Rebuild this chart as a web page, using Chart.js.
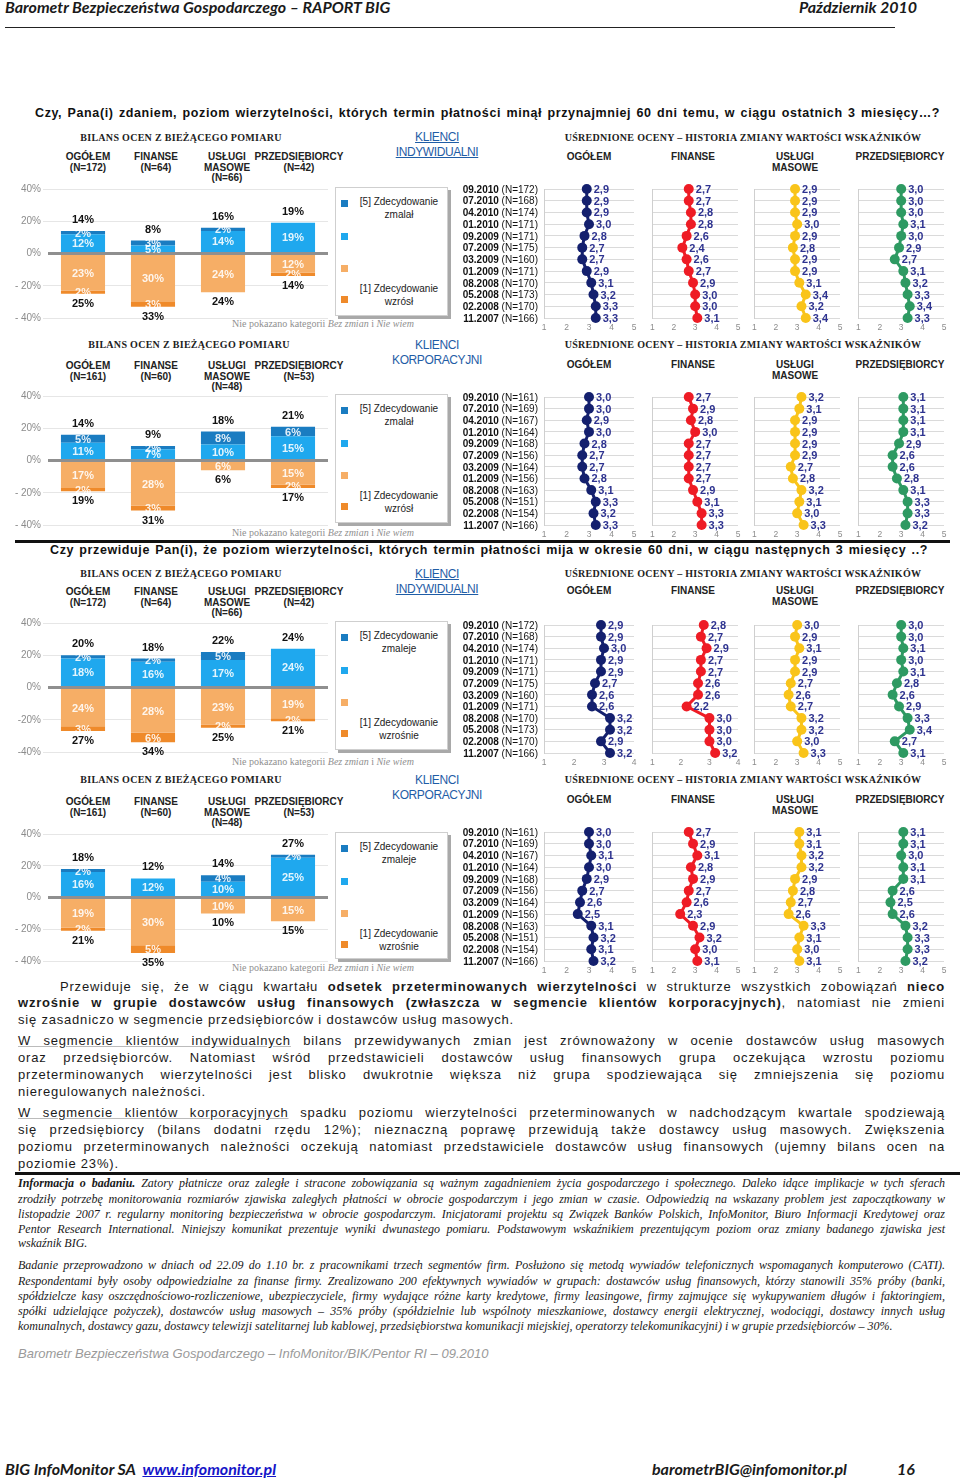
<!DOCTYPE html>
<html><head><meta charset="utf-8">
<script src="https://cdn.jsdelivr.net/npm/chart.js@4.4.1/dist/chart.umd.min.js"></script>
<style>
html,body{margin:0;padding:0;background:#fff;}
body{width:960px;height:1481px;position:relative;overflow:hidden;font-family:"Liberation Sans",Arial,sans-serif;color:#111;}
.a{position:absolute;white-space:nowrap;}
.hd{font-family:"Liberation Serif","Times New Roman",serif;font-weight:bold;font-size:10px;color:#222;text-align:center;letter-spacing:0.3px;}
.col{font-weight:bold;font-size:10px;text-align:center;line-height:10.5px;color:#222;}
.kl{font-size:12px;color:#1f5da6;text-align:center;line-height:14.5px;letter-spacing:-0.4px;}
.lg{border:1px solid #cfcfcf;box-shadow:3px 3px 0 #a9a9a9;background:#fff;}
.lt{position:absolute;font-size:10px;text-align:center;line-height:12.5px;color:#222;white-space:nowrap;}
.np{font-family:"Liberation Serif","Times New Roman",serif;font-size:10px;color:#8f8f8f;}
.jl{position:absolute;white-space:nowrap;text-align:justify;text-align-last:justify;}
.bt{font-size:13px;letter-spacing:0.8px;line-height:18px;color:#1a1a1a;}
.it{font-family:"Liberation Serif","Times New Roman",serif;font-style:italic;font-size:12px;line-height:15px;color:#1a1a1a;}
.ph{font-family:Lato,"Open Sans",sans-serif;font-weight:bold;font-style:italic;font-size:16px;line-height:19px;color:#1a1a1a;}
</style></head><body>
<script>
// ---------- DATA ----------
const barCategories = ['OGÓŁEM', 'FINANSE', 'USŁUGI MASOWE', 'PRZEDSIĘBIORCY'];
const barTicksA = ['40%', '20%', '0%', '- 20%', '- 40%'];
const barTicksB = ['40%', '20%', '0%', '-20%', '-40%'];
const lineDates = ['09.2010','07.2010','04.2010','01.2010','09.2009','07.2009','03.2009','01.2009','08.2008','05.2008','02.2008','11.2007'];
const nIndividual = [172,168,174,171,171,175,160,171,170,173,170,166];
const nCorporate = [161,169,167,164,168,156,164,156,163,151,154,166];

// Panel 1: klienci indywidualni, ostatnie 3 miesiące
const p1N = [172, 64, 66, 42];
const p1DarkBlue = [2, 3, 2, 0];
const p1LightBlue = [12, 5, 14, 19];
const p1LightOrange = [23, 30, 24, 12];
const p1DarkOrange = [2, 3, 0, 2];
const p1TotalUp = [14, 8, 16, 19];
const p1TotalDown = [25, 33, 24, 14];
const p1Ogolem = [2.9,2.9,2.9,3.0,2.8,2.7,2.7,2.9,3.1,3.2,3.3,3.3];
const p1Finanse = [2.7,2.7,2.8,2.8,2.6,2.4,2.6,2.7,2.9,3.0,3.0,3.1];
const p1Uslugi = [2.9,2.9,2.9,3.0,2.9,2.8,2.9,2.9,3.1,3.4,3.2,3.4];
const p1Przeds = [3.0,3.0,3.0,3.1,3.0,2.9,2.7,3.1,3.2,3.3,3.4,3.3];

// Panel 2: klienci korporacyjni, ostatnie 3 miesiące
const p2N = [161, 60, 48, 53];
const p2DarkBlue = [5, 2, 8, 6];
const p2LightBlue = [11, 7, 10, 15];
const p2LightOrange = [17, 28, 6, 15];
const p2DarkOrange = [2, 3, 0, 2];
const p2TotalUp = [14, 9, 18, 21];
const p2TotalDown = [19, 31, 6, 17];
const p2Ogolem = [3.0,3.0,2.9,3.0,2.8,2.7,2.7,2.8,3.1,3.3,3.2,3.3];
const p2Finanse = [2.7,2.9,2.8,3.0,2.7,2.7,2.7,2.7,2.9,3.1,3.3,3.3];
const p2Uslugi = [3.2,3.1,2.9,2.9,2.9,2.9,2.7,2.8,3.2,3.1,3.0,3.3];
const p2Przeds = [3.1,3.1,3.1,3.1,2.9,2.6,2.6,2.8,3.1,3.3,3.3,3.2];

// Panel 3: klienci indywidualni, następne 3 miesiące
const p3N = [172, 64, 66, 42];
const p3DarkBlue = [2, 2, 5, 0];
const p3LightBlue = [18, 16, 17, 24];
const p3LightOrange = [24, 28, 23, 19];
const p3DarkOrange = [3, 6, 2, 2];
const p3TotalUp = [20, 18, 22, 24];
const p3TotalDown = [27, 34, 25, 21];
const p3Ogolem = [2.9,2.9,3.0,2.9,2.9,2.7,2.6,2.6,3.2,3.2,2.9,3.2];
const p3Finanse = [2.8,2.7,2.9,2.7,2.7,2.6,2.6,2.2,3.0,3.0,3.0,3.2];
const p3Uslugi = [3.0,2.9,3.1,2.9,2.9,2.7,2.6,2.7,3.2,3.2,3.0,3.3];
const p3Przeds = [3.0,3.0,3.1,3.0,3.1,2.8,2.6,2.9,3.3,3.4,2.7,3.1];

// Panel 4: klienci korporacyjni, następne 3 miesiące
const p4N = [161, 60, 48, 53];
const p4DarkBlue = [2, 0, 4, 2];
const p4LightBlue = [16, 12, 10, 25];
const p4LightOrange = [19, 30, 10, 15];
const p4DarkOrange = [2, 5, 0, 0];
const p4TotalUp = [18, 12, 14, 27];
const p4TotalDown = [21, 35, 10, 15];
const p4Ogolem = [3.0,3.0,3.1,3.0,2.9,2.7,2.6,2.5,3.1,3.2,3.1,3.2];
const p4Finanse = [2.7,2.9,3.1,2.8,2.9,2.7,2.6,2.3,2.9,3.2,3.0,3.1];
const p4Uslugi = [3.1,3.1,3.2,3.2,2.9,2.8,2.7,2.6,3.3,3.1,3.0,3.1];
const p4Przeds = [3.1,3.1,3.0,3.1,3.1,2.6,2.5,2.6,3.2,3.3,3.3,3.2];

// ---------- STYLE / LAYOUT ----------
const C = {dark:'#1a7cc1', light:'#1fa8ee', lor:'#f6ae66', dor:'#ef8a2a',
  navy:'#14206e', red:'#ee1c25', yellow:'#f9c41a', green:'#2e9a62', lbl:'#2e3390'};
const panels = [
  {top40:189, bot40:318, head:138, bilX:181, colY:157, lcolY:157, rowTop:189, rowBot:318, note:324, kl:137, klText:['KLIENCI','INDYWIDUALNI'], ul:true,
   N:p1N, db:p1DarkBlue, lb:p1LightBlue, lo:p1LightOrange, do_:p1DarkOrange, tu:p1TotalUp, td:p1TotalDown,
   lines:[p1Ogolem,p1Finanse,p1Uslugi,p1Przeds], nArr:nIndividual, xmax:[5,5,5,5], ticks:barTicksA, leg:['zmalał','wzrósł']},
  {top40:396, bot40:525, head:345, bilX:189, colY:366, lcolY:365, rowTop:397, rowBot:525, note:533, kl:345, klText:['KLIENCI','KORPORACYJNI'], ul:false,
   N:p2N, db:p2DarkBlue, lb:p2LightBlue, lo:p2LightOrange, do_:p2DarkOrange, tu:p2TotalUp, td:p2TotalDown,
   lines:[p2Ogolem,p2Finanse,p2Uslugi,p2Przeds], nArr:nCorporate, xmax:[5,5,5,5], ticks:barTicksA, leg:['zmalał','wzrósł']},
  {top40:623, bot40:752, head:574, bilX:181, colY:592, lcolY:591, rowTop:625, rowBot:753, note:762, kl:574, klText:['KLIENCI','INDYWIDUALNI'], ul:true,
   N:p3N, db:p3DarkBlue, lb:p3LightBlue, lo:p3LightOrange, do_:p3DarkOrange, tu:p3TotalUp, td:p3TotalDown,
   lines:[p3Ogolem,p3Finanse,p3Uslugi,p3Przeds], nArr:nIndividual, xmax:[4,4,5,5], ticks:barTicksB, leg:['zmaleje','wzrośnie']},
  {top40:834, bot40:961, head:780, bilX:181, colY:802, lcolY:800, rowTop:832, rowBot:961, note:968, kl:780, klText:['KLIENCI','KORPORACYJNI'], ul:false,
   N:p4N, db:p4DarkBlue, lb:p4LightBlue, lo:p4LightOrange, do_:p4DarkOrange, tu:p4TotalUp, td:p4TotalDown,
   lines:[p4Ogolem,p4Finanse,p4Uslugi,p4Przeds], nArr:nCorporate, xmax:[5,5,5,5], ticks:barTicksA, leg:['zmaleje','wzrośnie']},
];
const barColX = [88, 156, 227, 299];
const lineColX = [589, 693, 795, 900];
const lineX = [[544,634],[647,738],[749,840],[853,944]];
const lineColors = [C.navy, C.red, C.yellow, C.green];

function place(css, html, cls) {
  const el = document.createElement('div');
  el.className = 'a ' + (cls || '');
  el.style.cssText += css;
  el.innerHTML = html;
  document.body.appendChild(el);
  return el;
}
function canvasAt(left, top, w, h) {
  const c = document.createElement('canvas');
  c.width = w; c.height = h;
  c.style.cssText = `position:absolute;left:${left}px;top:${top}px;width:${w}px;height:${h}px;`;
  document.body.appendChild(c);
  return c;
}

const barLabelPlugin = {
  id: 'barLabels',
  afterDatasetsDraw(chart, args, opts) {
    const ctx = chart.ctx, ys = chart.scales.y;
    ctx.save();
    ctx.textAlign = 'center'; ctx.textBaseline = 'middle';
    ctx.font = 'bold 11px "Liberation Sans", Arial';
    ctx.fillStyle = 'rgba(255,255,255,0.88)';
    chart.data.datasets.forEach((ds, di) => {
      const meta = chart.getDatasetMeta(di);
      meta.data.forEach((el, i) => {
        const v = Math.abs(ds.data[i]);
        if (!v) return;
        ctx.fillText(v + '%', el.x, (el.y + el.base) / 2 + 1);
      });
    });
    ctx.fillStyle = '#111';
    const n = chart.data.labels.length;
    for (let i = 0; i < n; i++) {
      let up = 0, dn = 0;
      chart.data.datasets.forEach(ds => { const v = ds.data[i]; if (v > 0) up += v; else dn += v; });
      const x = chart.getDatasetMeta(0).data[i].x;
      ctx.fillText(opts.up[i] + '%', x, ys.getPixelForValue(up) - 11);
      ctx.fillText(opts.down[i] + '%', x, ys.getPixelForValue(dn) + 10);
    }
    ctx.restore();
  }
};

function makeBar(p) {
  const left = 15, w = 315, padT = 8, padB = 8;
  const h = (p.bot40 - p.top40) + padT + padB;
  const cv = canvasAt(left, p.top40 - padT, w, h);
  new Chart(cv, {
    type: 'bar',
    data: {
      labels: barCategories,
      datasets: [
        {data: p.lb, backgroundColor: C.light},
        {data: p.db, backgroundColor: C.dark},
        {data: p.lo.map(v => -v), backgroundColor: C.lor},
        {data: p.do_.map(v => -v), backgroundColor: C.dor},
      ]
    },
    options: {
      responsive: false, animation: false,
      layout: {padding: {top: padT, bottom: padB, right: 2, left: 0}},
      datasets: {bar: {barPercentage: 0.9, categoryPercentage: 0.7}},
      plugins: {legend: {display: false}, tooltip: {enabled: false}, barLabels: {up: p.tu, down: p.td}},
      scales: {
        x: {stacked: true, display: false},
        y: {
          stacked: true, min: -40, max: 40,
          ticks: {stepSize: 20, color: '#8c8c8c', font: {size: 10, family: '"Liberation Sans", Arial'}, padding: 2,
            callback: (v) => p.ticks[Math.round((40 - v) / 20)]},
          grid: {
            color: c => c.tick && c.tick.value === 0 ? '#8f8f8f' : '#e6e6e6',
            lineWidth: c => c.tick && c.tick.value === 0 ? 3 : 1,
            tickColor: c => c.tick && c.tick.value === 0 ? 'rgba(0,0,0,0)' : '#e6e6e6',
            tickLength: 5
          },
          border: {display: false},
          afterFit: s => { s.width = 33; }
        }
      }
    },
    plugins: [barLabelPlugin]
  });
}

const valueLabelPlugin = {
  id: 'valueLabels',
  afterDatasetsDraw(chart) {
    const ctx = chart.ctx, meta = chart.getDatasetMeta(0), d = chart.data.datasets[0].data;
    ctx.save();
    ctx.font = 'bold 11px "Liberation Sans", Arial';
    ctx.fillStyle = C.lbl; ctx.textBaseline = 'middle'; ctx.textAlign = 'left';
    meta.data.forEach((pt, i) => ctx.fillText(d[i].toFixed(1).replace('.', ','), pt.x + 7, pt.y + 1));
    ctx.restore();
  }
};
function dateLabelPlugin(nArr) {
  return {
    id: 'dateLabels',
    afterDraw(chart) {
      const ctx = chart.ctx, ys = chart.scales.y, xr = chart.chartArea.left - 6;
      ctx.save(); ctx.fillStyle = '#111'; ctx.textAlign = 'right'; ctx.textBaseline = 'middle';
      lineDates.forEach((d, i) => {
        const y = ys.getPixelForTick(i) + 1;
        const t = ' (N=' + nArr[i] + ')';
        ctx.font = '10px "Liberation Sans", Arial';
        ctx.fillText(t, xr, y);
        const wN = ctx.measureText(t).width;
        ctx.font = 'bold 10px "Liberation Sans", Arial';
        ctx.fillText(d, xr - wN, y);
      });
      ctx.restore();
    }
  };
}

function makeLine(p, k) {
  const [l, r] = lineX[k];
  const withDates = k === 0;
  const yW = withDates ? 89 : 2, padR = 8, padT = 7, xH = 17;
  const w = yW + (r - l) + padR, h = padT + (p.rowBot - p.rowTop) + xH;
  const cv = canvasAt(l - yW, p.rowTop - padT, w, h);
  const col = lineColors[k];
  const pl = [valueLabelPlugin];
  if (withDates) pl.push(dateLabelPlugin(p.nArr));
  new Chart(cv, {
    type: 'line',
    data: {labels: lineDates, datasets: [{data: p.lines[k], borderColor: col, backgroundColor: col,
      pointBackgroundColor: col, pointBorderWidth: 0, pointRadius: 5, borderWidth: 3, tension: 0, clip: false}]},
    options: {
      indexAxis: 'y', responsive: false, animation: false,
      layout: {padding: {top: padT, right: padR, left: 0, bottom: 0}},
      plugins: {legend: {display: false}, tooltip: {enabled: false}},
      scales: {
        x: {type: 'linear', min: 1, max: p.xmax[k],
          ticks: {stepSize: 1, color: '#8c8c8c', font: {size: 8.5, family: '"Liberation Sans", Arial'}, padding: 5},
          grid: {display: false, drawTicks: false}, border: {display: false},
          afterFit: s => { s.height = xH; }},
        y: {type: 'category', ticks: {display: false},
          grid: {color: '#dadada', drawTicks: false}, border: {color: '#cfcfcf'},
          afterFit: s => { s.width = yW; }}
      }
    },
    plugins: pl
  });
}

// ---------- PAGE ----------
place('left:5px;top:-3px;', 'Barometr Bezpieczeństwa Gospodarczego – RAPORT BIG', 'ph');
place('left:799px;top:-3px;', 'Październik 2010', 'ph');
place('left:5px;top:27px;width:890px;height:1px;background:#222;', '');

place('left:35px;top:106px;width:905px;font-weight:bold;font-size:12.5px;letter-spacing:0.6px;', 'Czy, Pana(i) zdaniem, poziom wierzytelności, których termin płatności minął przynajmniej 60 dni temu, w ciągu ostatnich 3 miesięcy…?', 'jl');
place('left:15px;top:540px;width:935px;height:3px;background:#111;', '');
place('left:50px;top:543px;width:878px;font-weight:bold;font-size:12.5px;letter-spacing:0.6px;', 'Czy przewiduje Pan(i), że poziom wierzytelności, których termin płatności mija w okresie 60 dni, w ciągu następnych 3 miesięcy ..?', 'jl');

panels.forEach(p => {
  place(`left:${p.bilX - 150}px;top:${p.head - 6}px;width:300px;`, 'BILANS OCEN Z BIEŻĄCEGO POMIARU', 'hd');
  place(`left:${743 - 250}px;top:${p.head - 6}px;width:500px;`, 'UŚREDNIONE OCENY – HISTORIA ZMIANY WARTOŚCI WSKAŹNIKÓW', 'hd');
  place(`left:${437 - 60}px;top:${p.kl - 7}px;width:120px;${p.ul ? 'text-decoration:underline;' : ''}`, p.klText.join('<br>'), 'kl');
  const heads = ['OGÓŁEM<br>(N=' + p.N[0] + ')', 'FINANSE<br>(N=' + p.N[1] + ')', 'USŁUGI<br>MASOWE<br>(N=' + p.N[2] + ')', 'PRZEDSIĘBIORCY<br>(N=' + p.N[3] + ')'];
  heads.forEach((t, i) => place(`left:${barColX[i] - 60}px;top:${p.colY - 5}px;width:120px;`, t, 'col'));
  const lheads = ['OGÓŁEM', 'FINANSE', 'USŁUGI<br>MASOWE', 'PRZEDSIĘBIORCY'];
  lheads.forEach((t, i) => place(`left:${lineColX[i] - 60}px;top:${p.lcolY - 5}px;width:120px;`, t, 'col'));
  // legend
  const lt = p.top40 - 2, lh = (p.bot40 - p.top40) - 2;
  place(`left:335px;top:${lt}px;width:111px;height:${lh}px;`, '', 'lg');
  const sq = (dy, c) => place(`left:341px;top:${lt + dy - 3}px;width:7px;height:7px;background:${c};`, '');
  sq(16, C.dark); sq(49, C.light); sq(81, C.lor); sq(112, C.dor);
  place(`left:352px;top:${lt + 16 - 7}px;width:94px;`, '[5] Zdecydowanie<br>' + p.leg[0], 'lt');
  place(`left:352px;top:${lt + 103 - 7}px;width:94px;`, '[1] Zdecydowanie<br>' + p.leg[1], 'lt');
  place(`left:232px;top:${p.note - 6}px;`, 'Nie pokazano kategorii <i>Bez zmian</i> i <i>Nie wiem</i>', 'np');
  makeBar(p);
  for (let k = 0; k < 4; k++) makeLine(p, k);
});

// body text
const bodyLines = [
  [60, 885, 987, 'Przewiduje się, że w ciągu kwartału <b>odsetek przeterminowanych wierzytelności</b> w strukturze wszystkich zobowiązań <b>nieco</b>', true],
  [18, 927, 1003, '<b>wzrośnie w grupie dostawców usług finansowych (zwłaszcza w segmencie klientów korporacyjnych)</b>, natomiast nie zmieni', true],
  [18, 927, 1020, 'się zasadniczo w segmencie przedsiębiorców i dostawców usług masowych.', false],
  [18, 927, 1041, '<u style="text-decoration-color:#bbb">W segmencie klientów indywidualnych</u> bilans przewidywanych zmian jest zrównoważony w ocenie dostawców usług masowych', true],
  [18, 927, 1058, 'oraz przedsiębiorców. Natomiast wśród przedstawicieli dostawców usług finansowych grupa oczekująca wzrostu poziomu', true],
  [18, 927, 1075, 'przeterminowanych wierzytelności jest blisko dwukrotnie większa niż grupa spodziewająca się zmniejszenia się poziomu', true],
  [18, 927, 1092, 'nieregulowanych należności.', false],
  [18, 927, 1113, '<u style="text-decoration-color:#bbb">W segmencie klientów korporacyjnych</u> spadku poziomu wierzytelności przeterminowanych w nadchodzącym kwartale spodziewają', true],
  [18, 927, 1130, 'się przedsiębiorcy (bilans dodatni rzędu 12%); nieznaczną poprawę przewidują także dostawcy usług masowych. Zwiększenia', true],
  [18, 927, 1147, 'poziomu przeterminowanych należności oczekują natomiast przedstawiciele dostawców usług finansowych (ujemny bilans ocen na', true],
  [18, 927, 1164, 'poziomie 23%).', false],
];
bodyLines.forEach(([x, w, y, t, j]) => {
  place(`left:${x}px;top:${y - 9}px;width:${w}px;`, t, 'bt' + (j ? ' jl' : ''));
});
place('left:15px;top:1172px;width:945px;height:3px;background:#111;', '');

const infoLines = [
  [1184, '<b>Informacja o badaniu.</b> Zatory płatnicze oraz zaległe i stracone zobowiązania są ważnym zagadnieniem życia gospodarczego i społecznego. Daleko idące implikacje w tych sferach', true],
  [1200, 'zrodziły potrzebę monitorowania rozmiarów zjawiska zaległych płatności w obrocie gospodarczym i jego zmian w czasie. Odpowiedzią na wskazany problem jest zapoczątkowany w', true],
  [1215, 'listopadzie 2007 r. regularny monitoring bezpieczeństwa w obrocie gospodarczym. Inicjatorami projektu są Związek Banków Polskich, InfoMonitor, Biuro Informacji Kredytowej oraz', true],
  [1230, 'Pentor Research International. Niniejszy komunikat prezentuje wyniki dwunastego pomiaru. Podstawowym wskaźnikiem prezentującym poziom oraz zmiany badanego zjawiska jest', true],
  [1244, 'wskaźnik BIG.', false],
  [1266, 'Badanie przeprowadzono w dniach od 22.09 do 1.10 br. z pracownikami trzech segmentów firm. Posłużono się metodą wywiadów telefonicznych wspomaganych komputerowo (CATI).', true],
  [1282, 'Respondentami były osoby odpowiedzialne za finanse firmy. Zrealizowano 200 efektywnych wywiadów w grupach: dostawców usług finansowych, którzy stanowili 35% próby (banki,', true],
  [1297, 'spółdzielcze kasy oszczędnościowo-rozliczeniowe, ubezpieczyciele, firmy wydające różne karty kredytowe, firmy leasingowe, firmy zajmujące się wykupywaniem długów i faktoringiem,', true],
  [1312, 'spółki udzielające pożyczek), dostawców usług masowych – 35% próby (spółdzielnie lub wspólnoty mieszkaniowe, dostawcy energii elektrycznej, wodociągi, dostawcy innych usług', true],
  [1327, 'komunalnych, dostawcy gazu, dostawcy telewizji satelitarnej lub kablowej, przedsiębiorstwa komunikacji miejskiej, operatorzy telekomunikacyjni) i w grupie przedsiębiorców – 30%.', false],
];
infoLines.forEach(([y, t, j]) => place(`left:18px;top:${y - 8}px;width:927px;`, t, 'it' + (j ? ' jl' : '')));
place('left:18px;top:1346px;font-size:13px;font-style:italic;color:#9a9a9a;', 'Barometr Bezpieczeństwa Gospodarczego – InfoMonitor/BIK/Pentor RI – 09.2010');

place('left:5px;top:1459px;', 'BIG InfoMonitor SA&nbsp; <span style="color:#1515c8;text-decoration:underline;">www.infomonitor.pl</span>', 'ph');
place('left:652px;top:1459px;', 'barometrBIG@infomonitor.pl', 'ph');
place('left:897px;top:1459px;', '16', 'ph');
</script>
</body></html>
